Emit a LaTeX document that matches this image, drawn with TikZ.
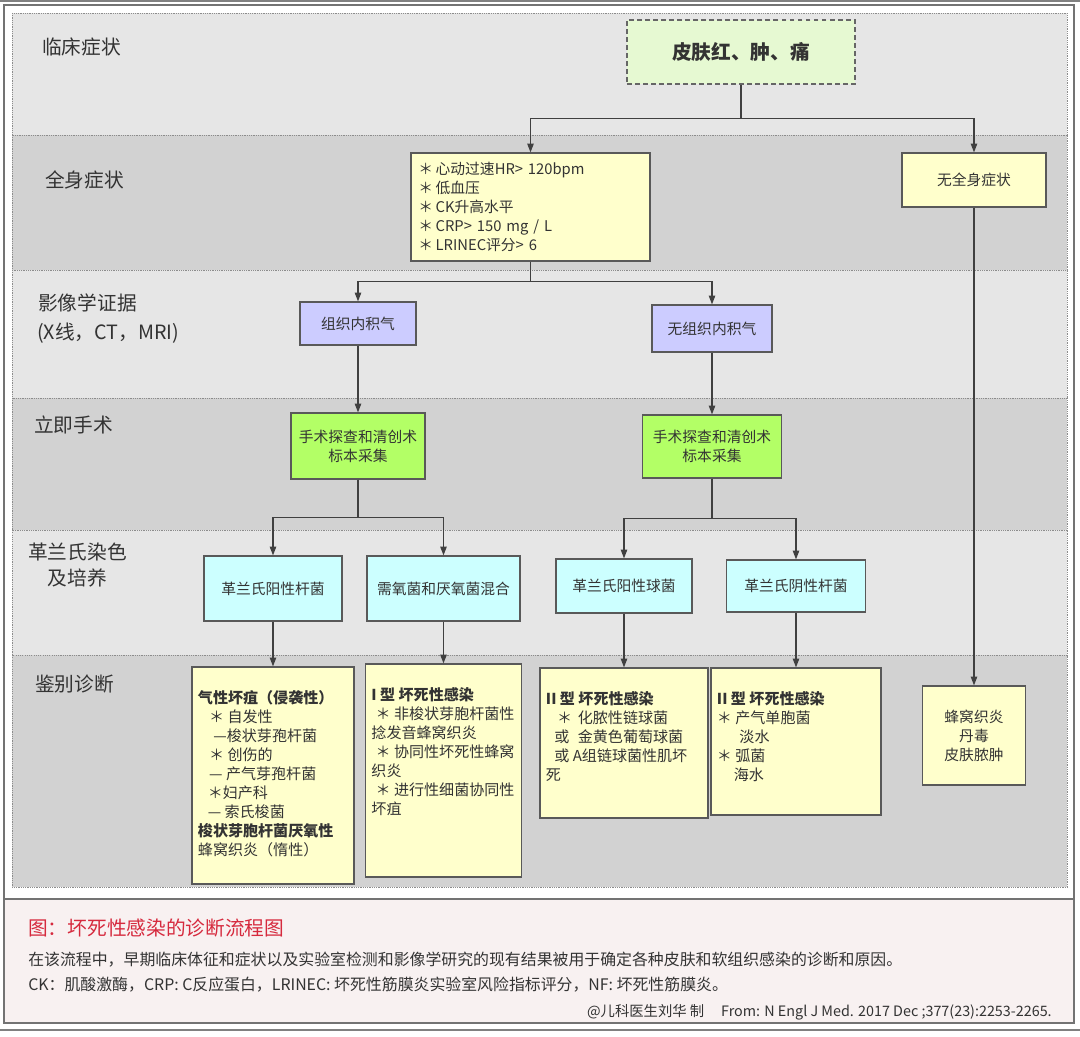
\documentclass[tikz,border=0pt]{standalone}
\usepackage{fontspec}
\setmainfont{Noto Sans CJK SC}
\usetikzlibrary{arrows.meta}
\definecolor{laneA}{HTML}{E6E6E6}
\definecolor{laneB}{HTML}{D2D2D2}
\definecolor{noteyel}{HTML}{FFFFCC}
\definecolor{gasblue}{HTML}{CCCCFF}
\definecolor{oplime}{HTML}{B3FF66}
\definecolor{gramcyan}{HTML}{CCFFFF}
\definecolor{skingreen}{HTML}{E6F9D2}
\definecolor{capred}{HTML}{D62A3E}
\definecolor{capbg}{HTML}{F8F1F1}
\definecolor{ink}{HTML}{333333}
\newcommand{\dtext}[3]{\parbox[t][#2][t]{#1}{#3}}

\begin{document}
\begin{tikzpicture}[x=0.025cm,y=-0.025cm,
			lane/.style={draw=black!45,dash pattern=on 0.8pt off 0.8pt,line width=0.6pt},
			lanelabel/.style={anchor=west,inner sep=0pt,align=center,text=ink,font=\fontsize{14}{18}\selectfont},
			box/.style={draw=black!65,line width=0.8pt,align=center,text=ink,inner sep=0pt,
				font=\fontsize{10.5}{13.5}\selectfont},
			sym/.style={box,fill=noteyel},
			img/.style={box,fill=gasblue},
			surg/.style={box,fill=oplime},
			gram/.style={box,fill=gramcyan},
			diag/.style={box,fill=noteyel,inner xsep=0.15cm,inner ysep=0.6cm,
				font=\fontsize{10.7}{13.5}\selectfont},
			arrow/.style={-{Triangle[length=2.2mm,width=1.6mm]},draw=black!75,line width=0.9pt},
			capline/.style={anchor=west,inner sep=0pt,text=ink,font=\fontsize{11.3}{14}\selectfont}
			]
			
			\useasboundingbox[fill=white] (0,0) rectangle (1080,1037);
			
			% frame and caption panel
			\draw[black!50,line width=0.8pt] (0,1) -- (1080,1);
			\draw[black!55,line width=0.8pt] (4,5) rectangle (1074,899);
			\draw[black!55,line width=0.8pt,fill=capbg] (4,899) rectangle (1074,1023);
			\draw[black!50,line width=0.8pt] (0,1030) -- (1080,1030);
			
			% lanes
			\foreach \ya/\yb/\col in {13/135/laneA,135/270/laneB,270/398/laneA,398/530/laneB,530/655/laneA,655/887/laneB}
			\draw[lane,fill=\col] (12,\ya) rectangle (1067,\yb);
			
			\node[lanelabel] (lab1) at (42,47) {临床症状};
			\node[lanelabel] (lab2) at (45,180) {全身症状};
			\node[lanelabel] (lab3) at (38,303) {影像学证据};
			\node[lanelabel] (lab3b) at (37,333) {(X线，CT，MRI)};
			\node[lanelabel] (lab4) at (34,425) {立即手术};
			\node[lanelabel] (lab5) at (28,565) {革兰氏染色\\及培养};
			\node[lanelabel] (lab6) at (35,684) {鉴别诊断};
			
			% nodes
			\node[box,fill=skingreen,draw=black!60,dash pattern=on 3.5pt off 2.2pt,minimum width=5.7cm,minimum height=1.6cm,
				font=\bfseries\fontsize{14}{18}\selectfont] (skin) at (741,52) {皮肤红、肿、痛};
			
			\node[sym,align=left,text width=5.6cm,inner xsep=0.18cm,minimum width=5.975cm,minimum height=2.7cm] (sys) at (530.5,207)
			{＊\,心动过速HR> 120bpm\\＊\,低血压\\＊\,CK升高水平\\＊\,CRP> 150 mg / L\\＊\,LRINEC评分> 6};
			\node[sym,minimum width=3.6cm,minimum height=1.35cm] (nosys) at (974,180) {无全身症状};
			
			\node[img,minimum width=2.9cm,minimum height=1.075cm] (gas) at (358,323.5) {组织内积气};
			\node[img,minimum width=3cm,minimum height=1.175cm] (nogas) at (712,328.5) {无组织内积气};
			
			\node[surg,minimum width=3.35cm,minimum height=1.65cm] (surgL) at (358,446) {手术探查和清创术\\标本采集};
			\node[surg,minimum width=3.475cm,minimum height=1.575cm] (surgR) at (712,446.5) {手术探查和清创术\\标本采集};
			
			\node[gram,minimum width=3.45cm,minimum height=1.625cm] (gpr) at (273,588.5) {革兰氏阳性杆菌};
			\node[gram,minimum width=3.825cm,minimum height=1.625cm] (mix) at (443.5,588.5) {需氧菌和厌氧菌混合};
			\node[gram,minimum width=3.4cm,minimum height=1.35cm] (gpc) at (624,586) {革兰氏阳性球菌};
			\node[gram,minimum width=3.475cm,minimum height=1.3cm] (gnr) at (796,586) {革兰氏阴性杆菌};
			
			\node[diag] (dGas) at (273,775.5) {\dtext{3.75cm}{4.225cm}{%
					\textbf{气性坏疽（侵袭性）}\\
					\hspace*{8pt}＊ 自发性\\
					\hspace*{11pt}—梭状芽孢杆菌\\
					\hspace*{8pt}＊ 创伤的\\
					\hspace*{8pt}— 产气芽孢杆菌\\
					\hspace*{7pt}＊妇产科\\
					\hspace*{7pt}— 索氏梭菌\\
					\textbf{梭状芽胞杆菌厌氧性}\\
					蜂窝织炎（惰性）}};
			\node[diag] (dT1) at (443.5,770.5) {\dtext{3.6cm}{4.125cm}{%
					\textbf{I 型 坏死性感染}\\
					\hspace*{3pt}＊ 非梭状芽胞杆菌性\\
					捻发音蜂窝织炎\\
					\hspace*{3pt}＊ 协同性坏死性蜂窝\\
					织炎\\
					\hspace*{3pt}＊ 进行性细菌协同性\\
					坏疽}};
			\node[diag] (dT2a) at (624,743) {\dtext{3.9cm}{2.55cm}{%
					\textbf{II 型 坏死性感染}\\
					\hspace*{8pt}＊\hspace{4pt}化脓性链球菌\\
					\hspace*{6pt}或\hspace{6pt}金黄色葡萄球菌\\
					\hspace*{6pt}或 A组链球菌性肌坏\\
					死}};
			\node[diag] (dT2b) at (796,741.5) {\dtext{3.95cm}{2.475cm}{%
					\textbf{II 型 坏死性感染}\\
					＊ 产气单胞菌\\
					\hspace*{16pt}淡水\\
					＊ 弧菌\\
					\hspace*{12pt}海水}};
			\node[sym,minimum width=2.575cm,minimum height=2.475cm] (dCel) at (974,735.5) {蜂窝织炎\\丹毒\\皮肤脓肿};
			
			% connectors
			\draw[arrow] (skin.south) -- ++(0,34) -| (sys.north);
			\draw[arrow] (skin.south) -- ++(0,34) -| (nosys.north);
			\draw[arrow] (sys.south) -- ++(0,20) -| (gas.north);
			\draw[arrow] (sys.south) -- ++(0,20) -| (nogas.north);
			\draw[arrow] (gas) -- (surgL);
			\draw[arrow] (nogas) -- (surgR);
			\draw[arrow] (surgL.south) -- ++(0,38) -| (gpr.north);
			\draw[arrow] (surgL.south) -- ++(0,38) -| (mix.north);
			\draw[arrow] (surgR.south) -- ++(0,40) -| (gpc.north);
			\draw[arrow] (surgR.south) -- ++(0,40) -| (gnr.north);
			\draw[arrow] (gpr) -- (dGas);
			\draw[arrow] (mix) -- (dT1);
			\draw[arrow] (gpc) -- (dT2a);
			\draw[arrow] (gnr) -- (dT2b);
			\draw[arrow] (nosys) -- (dCel);
			
			% caption
			\node[anchor=west,inner sep=0pt,text=capred,font=\fontsize{14}{18}\selectfont] (title) at (28,928) {图：坏死性感染的诊断流程图};
			\node[capline] (note1) at (28,960) {在该流程中，早期临床体征和症状以及实验室检测和影像学研究的现有结果被用于确定各种皮肤和软组织感染的诊断和原因。};
			\node[capline] (note2) at (28,985) {CK：肌酸激酶，CRP: C反应蛋白，LRINEC: 坏死性筋膜炎实验室风险指标评分，NF: 坏死性筋膜炎。};
			\node[capline,anchor=east,font=\fontsize{10.2}{13}\selectfont] (credit) at (1052,1012) {@儿科医生刘华 制\hspace{12pt}From: N Engl J Med. 2017 Dec ;377(23):2253-2265.};
			
		\end{tikzpicture}
\end{document}
